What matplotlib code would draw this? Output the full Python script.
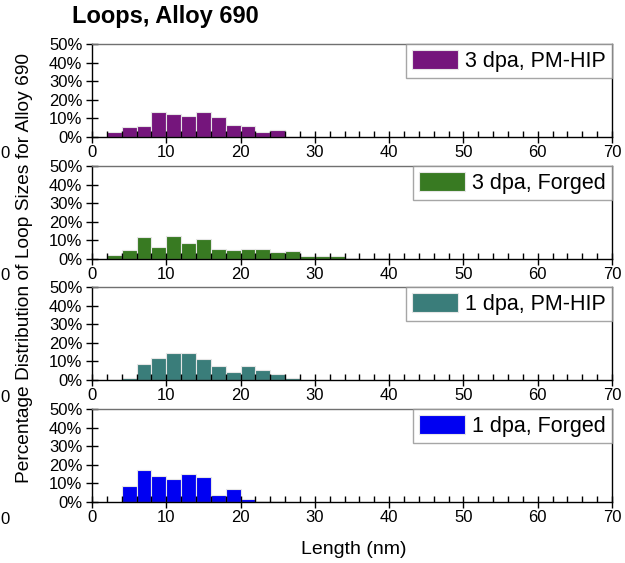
import matplotlib
matplotlib.use("Agg")
import matplotlib.pyplot as plt
from matplotlib.ticker import MultipleLocator, FuncFormatter
import numpy as np

plt.rcParams['font.family'] = ['Liberation Sans', 'DejaVu Sans']

# Data (percent of loops per 2 nm bin)
labels = ["3 dpa, PM-HIP", "3 dpa, Forged", "1 dpa, PM-HIP", "1 dpa, Forged"]
colors = ["#75157C", "#387A22", "#3A7D7A", "#0000F2"]
start_3dpa_hip = 2
vals_3dpa_hip = [2.7, 5.4, 6.0, 13.6, 12.5, 11.4, 13.6, 10.7, 6.7, 6.0, 2.7, 3.8, 0.0, 0.7]
start_3dpa_forged = 2
vals_3dpa_forged = [2.0, 4.7, 11.7, 6.7, 12.2, 8.6, 11.0, 5.4, 4.9, 5.4, 5.4, 3.8, 4.3,
                    1.6, 1.6, 1.6, 0.7, 0.0, 0.7]
start_1dpa_hip = 4
vals_1dpa_hip = [1.3, 8.6, 11.7, 14.6, 14.6, 11.3, 7.6, 4.5, 7.6, 5.2, 3.1, 0.9]
start_1dpa_forged = 4
vals_1dpa_forged = [8.7, 17.1, 14.1, 12.5, 14.8, 13.4, 4.0, 7.2, 1.8, 0.3, 0.3]
bin_width = 2

series = [
    (start_3dpa_hip, vals_3dpa_hip),
    (start_3dpa_forged, vals_3dpa_forged),
    (start_1dpa_hip, vals_1dpa_hip),
    (start_1dpa_forged, vals_1dpa_forged),
]

W, H = 625, 563
fig = plt.figure(figsize=(W / 100, H / 100), dpi=100)

tops = [44, 166, 287, 409]
ax_h = 93
left_px, width_px = 92, 520

for i, ((start, vals), lab, col) in enumerate(zip(series, labels, colors)):
    top = tops[i]
    ax = fig.add_axes([left_px / W, (H - top - ax_h) / H, width_px / W, ax_h / H])
    lefts = start + bin_width * np.arange(len(vals))
    ax.bar(lefts, vals, width=bin_width, align='edge', color=col,
           edgecolor='#e6e6e6', linewidth=0.8, label=lab)
    ax.set_xlim(0, 70)
    ax.set_ylim(0, 50)
    ax.xaxis.set_major_locator(MultipleLocator(10))
    ax.xaxis.set_minor_locator(MultipleLocator(2))
    ax.yaxis.set_major_locator(MultipleLocator(10))
    ax.yaxis.set_major_formatter(FuncFormatter(lambda v, p: f"{int(round(v))}%"))
    ax.tick_params(axis='both', which='major', direction='inout', length=8,
                   width=1, labelsize=12, colors='black')
    ax.tick_params(axis='x', which='major', pad=2)
    ax.tick_params(axis='y', which='major', pad=3)
    ax.tick_params(axis='x', which='minor', direction='in', length=4, width=1)
    for s in ['left', 'bottom', 'right']:
        ax.spines[s].set_color('black')
        ax.spines[s].set_linewidth(1.0)
    ax.spines['top'].set_color('#707070')
    ax.spines['top'].set_linewidth(1.0)
    leg = ax.legend(loc='upper right', fontsize=15.5, frameon=True, fancybox=False,
                    borderaxespad=0.0, borderpad=0.28, handlelength=2.1,
                    handleheight=0.95, handletextpad=0.35)
    leg.get_frame().set_edgecolor('#909090')
    leg.get_frame().set_linewidth(1.0)
    # label remnant at left edge
    fig.text(0.5 / W, 1 - (top + ax_h + 17) / H, "0", fontsize=12, ha='left', va='center')

fig.text(72 / W, 1 - 23 / H, "Loops, Alloy 690", fontsize=17, fontweight='bold',
         ha='left', va='baseline')
fig.text(25 / W, 1 - 268 / H, "Percentage Distribution of Loop Sizes for Alloy 690",
         fontsize=13.8, rotation=90, ha='center', va='center')
fig.text(354 / W, 1 - 549 / H, "Length (nm)", fontsize=14, ha='center', va='center')

fig.savefig("out.png", dpi=100)
